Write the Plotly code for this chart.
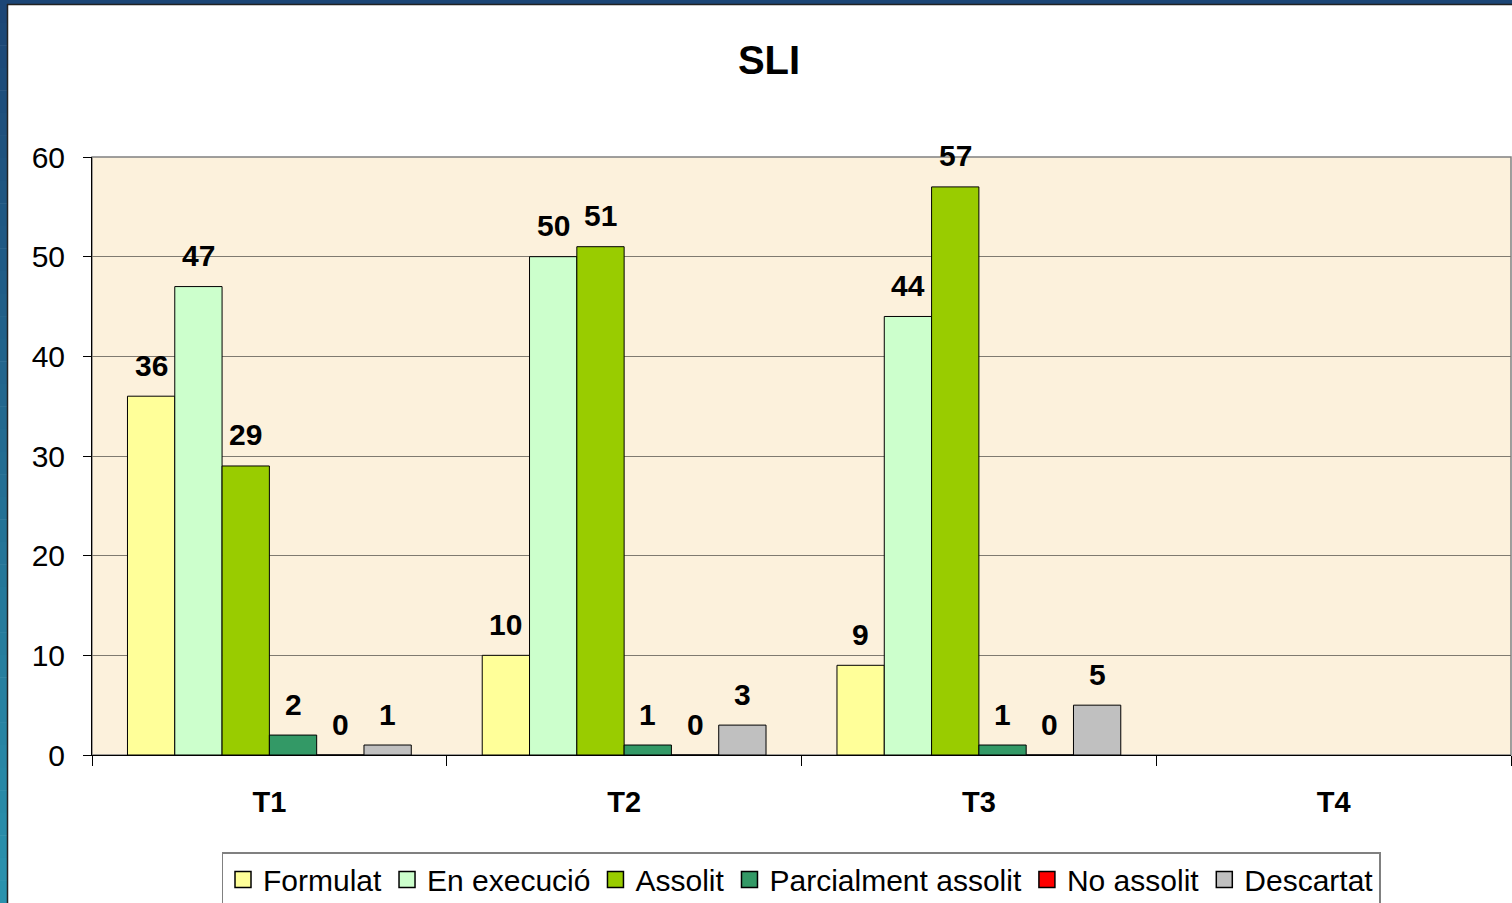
import plotly.graph_objects as go

categories = ["T1", "T2", "T3", "T4"]
series_names = ["Formulat", "En execució", "Assolit", "Parcialment assolit", "No assolit", "Descartat"]
formulat = [36, 10, 9, None]
en_execucio = [47, 50, 44, None]
assolit = [29, 51, 57, None]
parcialment = [2, 1, 1, None]
no_assolit = [0, 0, 0, None]
descartat = [1, 3, 5, None]
y_ticks = [0, 10, 20, 30, 40, 50, 60]

series_values = [formulat, en_execucio, assolit, parcialment, no_assolit, descartat]
colors = ["#FFFF99", "#CCFFCC", "#99CC00", "#339966", "#FF0000", "#C0C0C0"]

W, H = 1512, 903
L, R, T, B = 92, 1, 157, 148
PW, PH = W - L - R, H - T - B
BARGAP = 0.2
FONT = "Arial, Liberation Sans, sans-serif"

def px_x(px):
    return (px - L) / PW

def px_y(py):
    return (H - B - py) / PH

fig = go.Figure()
for name, vals, col in zip(series_names, series_values, colors):
    fig.add_trace(go.Bar(
        x=categories, y=vals, name=name, showlegend=False,
        marker=dict(color=col, line=dict(color="black", width=1)),
        hoverinfo="x+y+name",
    ))
# legend entries with larger square swatches
for name, col in zip(series_names, colors):
    fig.add_trace(go.Scatter(
        x=[None], y=[None], name=name, mode="markers", showlegend=True,
        marker=dict(symbol="square", size=16, color=col, line=dict(color="black", width=1.5)),
        hoverinfo="skip",
    ))

# data labels above bars
n = len(series_names)
bw = PW / len(categories) * (1 - BARGAP) / n
annotations = []
for i, vals in enumerate(series_values):
    for c, v in zip(categories, vals):
        if v is None:
            continue
        annotations.append(dict(
            x=c, y=v, xref="x", yref="y", text=f"<b>{v}</b>",
            showarrow=False, xshift=(i - (n - 1) / 2) * bw, yshift=31,
            yanchor="middle", xanchor="center",
            font=dict(family=FONT, size=30, color="black"),
        ))

# frame shapes (left gradient strip + top strip)
shapes = []
c0 = (0x1c, 0x46, 0x76)
c1 = (0x2a, 0x92, 0xad)
segs = 40
for k in range(segs):
    t = k / (segs - 1)
    col = "rgb(%d,%d,%d)" % tuple(round(a + (b - a) * t) for a, b in zip(c0, c1))
    y0 = k * H / segs
    y1 = (k + 1) * H / segs + 0.5
    shapes.append(dict(type="rect", xref="paper", yref="paper",
                       x0=px_x(-1), x1=px_x(7), y0=px_y(y1), y1=px_y(y0),
                       fillcolor=col, line=dict(width=0), layer="above"))
shapes.append(dict(type="rect", xref="paper", yref="paper",
                   x0=px_x(-1), x1=px_x(W + 2), y0=px_y(4), y1=px_y(-1),
                   fillcolor="rgb(28,70,118)", line=dict(width=0), layer="above"))
shapes.append(dict(type="line", xref="paper", yref="paper",
                   x0=px_x(7.5), x1=px_x(7.5), y0=px_y(H + 1), y1=px_y(4),
                   line=dict(color="#222", width=1.5), layer="above"))
shapes.append(dict(type="line", xref="paper", yref="paper",
                   x0=px_x(7), x1=px_x(W + 2), y0=px_y(4.5), y1=px_y(4.5),
                   line=dict(color="#222", width=1.5), layer="above"))
# plot area border (gray top/right)
shapes.append(dict(type="rect", xref="paper", yref="paper", x0=0, x1=1, y0=0, y1=1,
                   line=dict(color="#808080", width=1.5), layer="below"))

fig.update_layout(
    width=W, height=H,
    margin=dict(l=L, r=R, t=T, b=B, autoexpand=False),
    paper_bgcolor="white",
    plot_bgcolor="#FCF1DC",
    barmode="group", bargap=BARGAP, bargroupgap=0,
    font=dict(family=FONT, color="black"),
    title=dict(text="<b>SLI</b>", x=769 / W, xanchor="center", xref="container",
               y=1 - 60 / H, yanchor="middle", yref="container",
               font=dict(family=FONT, size=40, color="black")),
    xaxis=dict(
        type="category", categoryorder="array", categoryarray=categories,
        tickson="boundaries", ticks="outside", ticklen=10, tickcolor="black", tickwidth=1,
        showline=True, linecolor="black", linewidth=1,
        tickfont=dict(family=FONT, size=29, color="black", weight="bold"),
        ticklabelstandoff=21, showgrid=False,
    ),
    yaxis=dict(
        range=[0, 60], tickvals=y_ticks, ticks="outside", ticklen=8, tickcolor="black",
        showline=True, linecolor="black", linewidth=1,
        showgrid=True, gridcolor="#7f7a70", gridwidth=1,
        tickfont=dict(family=FONT, size=30, color="black"),
        ticklabelstandoff=12, zeroline=False,
    ),
    legend=dict(
        orientation="h", x=px_x(801), xanchor="center", y=px_y(852), yanchor="top",
        bordercolor="#808080", borderwidth=1.5, bgcolor="white",
        font=dict(family=FONT, size=30, color="black"),
        itemwidth=30, traceorder="normal", itemsizing="trace",
    ),
    annotations=annotations,
    shapes=shapes,
    showlegend=True,
)

fig.write_html("out.html", config={"displayModeBar": False},
               post_script="document.body.style.margin='0';")
